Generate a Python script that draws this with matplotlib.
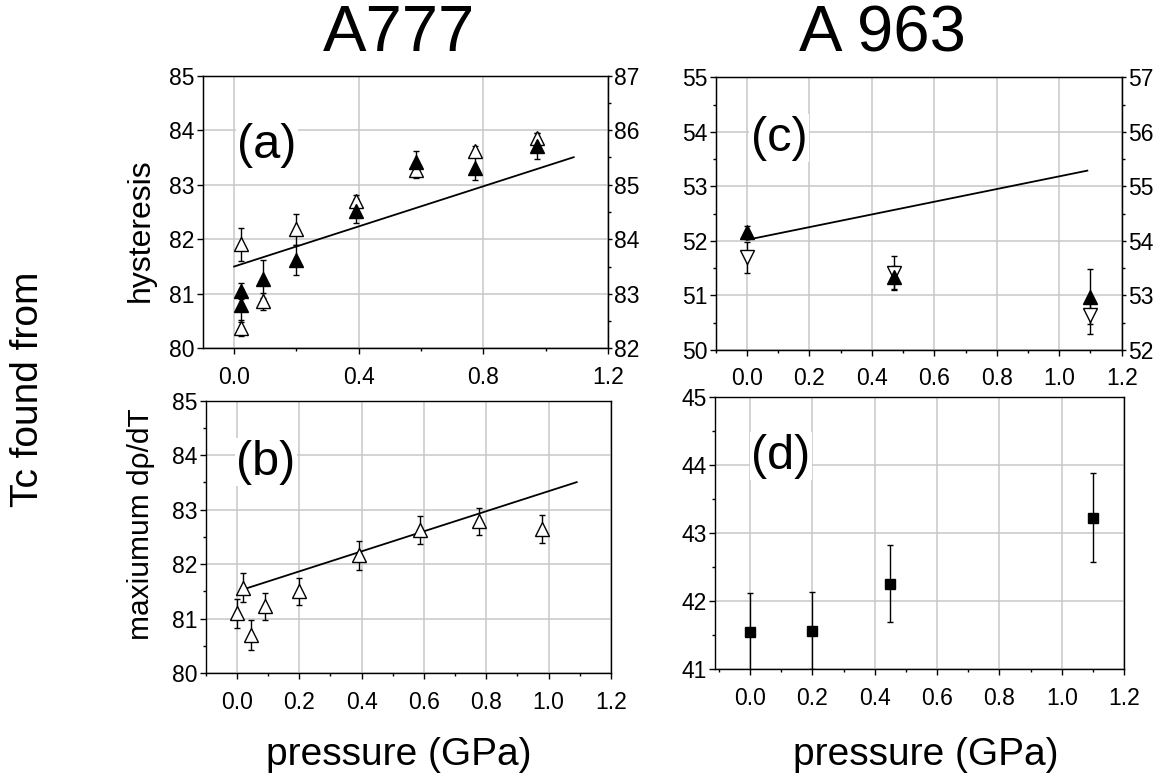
import matplotlib
matplotlib.use("Agg")
import matplotlib.pyplot as plt
from matplotlib.ticker import MultipleLocator, FormatStrFormatter

plt.rcParams['font.family'] = ['Liberation Sans', 'DejaVu Sans']

# ---------------- data ----------------
# (a) A777, Tc from hysteresis
pa = [0.021, 0.021, 0.094, 0.197, 0.39, 0.584, 0.774, 0.973]
ya_open = [80.37, 81.91, 80.86, 82.18, 82.70, 83.27, 83.61, 83.86]
ea_open = [0.15, 0.30, 0.15, 0.28, 0.12, 0.15, 0.10, 0.08]
ya_fill = [81.05, 80.79, 81.27, 81.62, 82.51, 83.42, 83.30, 83.71]
ea_fill = [0.14, 0.30, 0.35, 0.28, 0.22, 0.20, 0.21, 0.23]
fit_ab_intercept, fit_ab_slope = 81.50, 1.84
fit_a_x = [0.0, 1.09]

# (b) A777, Tc from maximum drho/dT
pb = [0.0, 0.019, 0.045, 0.091, 0.198, 0.391, 0.587, 0.778, 0.98]
yb = [81.10, 81.57, 80.70, 81.23, 81.50, 82.16, 82.63, 82.79, 82.65]
eb = [0.27, 0.26, 0.27, 0.25, 0.25, 0.27, 0.26, 0.25, 0.26]
fit_b_x = [0.019, 1.09]

# (c) A963, hysteresis
pc = [0.0, 0.47, 1.10]
yc_fill = [52.16, 51.33, 50.98]
ec_fill = [0.12, 0.21, 0.50]
yc_open = [51.70, 51.41, 50.64]
ec_open = [0.28, 0.31, 0.34]
fit_c_intercept, fit_c_slope = 52.02, 1.164
fit_c_x = [0.0, 1.09]

# (d) A963, maximum drho/dT
pd_ = [0.0, 0.2, 0.449, 1.10]
yd = [41.555, 41.57, 42.26, 43.23]
ed = [0.57, 0.57, 0.57, 0.65]

# ---------------- figure ----------------
W, H = 1162, 781
fig = plt.figure(figsize=(W / 100, H / 100), dpi=100)


def rect(l, t, r, b):
    return [l / W, 1 - b / H, (r - l) / W, (b - t) / H]


axa = fig.add_axes(rect(203, 75.7, 608, 348.3))
axb = fig.add_axes(rect(205.7, 400.7, 611, 673.2))
axc = fig.add_axes(rect(715.7, 77.3, 1121.7, 350))
axd = fig.add_axes(rect(715, 397.3, 1124, 669.3))

GRID = '#c8c8c8'
TICKFS = 16.5


def style(ax, xmaj, xmin, ymin_loc=0.5, yminor=True):
    ax.xaxis.set_major_locator(MultipleLocator(xmaj))
    ax.xaxis.set_minor_locator(MultipleLocator(xmin))
    ax.xaxis.set_major_formatter(FormatStrFormatter('%.1f'))
    ax.yaxis.set_major_locator(MultipleLocator(1))
    if yminor:
        ax.yaxis.set_minor_locator(MultipleLocator(ymin_loc))
    else:
        ax.yaxis.set_minor_locator(plt.NullLocator())
    ax.yaxis.set_major_formatter(FormatStrFormatter('%d'))
    ax.tick_params(axis='x', which='major', direction='out', length=4.5, width=1,
                   pad=8, labelsize=TICKFS, top=False)
    ax.tick_params(axis='x', which='minor', direction='out', length=2.5, width=1, top=False)
    ax.tick_params(axis='y', which='major', direction='out', length=4.5, width=1,
                   pad=1.5, labelsize=TICKFS, right=False)
    ax.tick_params(axis='y', which='minor', direction='out', length=2.5, width=1, right=False)
    ax.grid(True, which='major', color=GRID, lw=1.1)
    ax.set_axisbelow(True)
    for s in ax.spines.values():
        s.set_linewidth(1.0)


def twin(ax, lo, hi):
    t = ax.twinx()
    t.set_ylim(lo, hi)
    t.yaxis.set_major_locator(MultipleLocator(1))
    t.yaxis.set_minor_locator(MultipleLocator(0.5))
    t.yaxis.set_major_formatter(FormatStrFormatter('%d'))
    t.tick_params(axis='y', which='major', direction='out', length=3, width=1,
                  pad=1.5, labelsize=TICKFS)
    t.tick_params(axis='y', which='minor', direction='out', length=2, width=1)
    return t


def points(ax, x, y, e, marker, filled, ms=9.5):
    ax.errorbar(x, y, yerr=e, fmt='none', ecolor='black', elinewidth=1,
                capsize=2.2, capthick=1, zorder=3)
    ax.plot(x, y, linestyle='none', marker=marker, ms=ms,
            mfc='black' if filled else 'white', mec='black', mew=1, zorder=4)


def label(ax, txt, fx, fy):
    ax.text(fx, fy, txt, transform=ax.transAxes, fontsize=35, ha='center', va='center',
            bbox=dict(facecolor='white', edgecolor='none', pad=1), zorder=5)


# (a)
style(axa, 0.4, 0.2, yminor=False)
axa.set_xlim(-0.1, 1.2)
axa.set_ylim(80, 85)
points(axa, pa, ya_open, ea_open, '^', False)
points(axa, pa, ya_fill, ea_fill, '^', True)
axa.plot(fit_a_x, [fit_ab_intercept + fit_ab_slope * v for v in fit_a_x], color='black', lw=1.3, zorder=3)
label(axa, '(a)', 0.158, 0.745)
twin(axa, 82, 87)

# (b)
style(axb, 0.2, 0.1)
axb.set_xlim(-0.1, 1.2)
axb.set_ylim(80, 85)
points(axb, pb, yb, eb, '^', False)
axb.plot(fit_b_x, [fit_ab_intercept + fit_ab_slope * v for v in fit_b_x], color='black', lw=1.3, zorder=3)
label(axb, '(b)', 0.149, 0.775)

# (c)
style(axc, 0.2, 0.1)
axc.set_xlim(-0.1, 1.2)
axc.set_ylim(50, 55)
points(axc, pc, yc_open, ec_open, 'v', False)
points(axc, pc, yc_fill, ec_fill, '^', True)
axc.plot(fit_c_x, [fit_c_intercept + fit_c_slope * v for v in fit_c_x], color='black', lw=1.3, zorder=3)
label(axc, '(c)', 0.156, 0.777)
twin(axc, 52, 57)

# (d)
style(axd, 0.2, 0.1)
axd.set_xlim(-0.113, 1.2)
axd.set_ylim(41, 45)
points(axd, pd_, yd, ed, 's', True, ms=7.5)
label(axd, '(d)', 0.161, 0.784)

# figure texts
fig.text(399 / W, 1 - 34 / H, 'A777', fontsize=47, ha='center', va='center')
fig.text(882 / W, 1 - 34 / H, 'A 963', fontsize=47, ha='center', va='center')
fig.text(399 / W, 1 - 755 / H, 'pressure (GPa)', fontsize=28, ha='center', va='center')
fig.text(926 / W, 1 - 755 / H, 'pressure (GPa)', fontsize=28, ha='center', va='center')
fig.text(28 / W, 1 - 389 / H, 'Tc found from', fontsize=28, rotation=90, ha='center', va='center')
fig.text(141 / W, 1 - 230 / H, 'hysteresis', fontsize=23, rotation=90, ha='center', va='center')
fig.text(141 / W, 1 - 524 / H, 'maxiumum d\u03c1/dT', fontsize=21.5, rotation=90, ha='center', va='center')

fig.savefig('out.png', dpi=100)
